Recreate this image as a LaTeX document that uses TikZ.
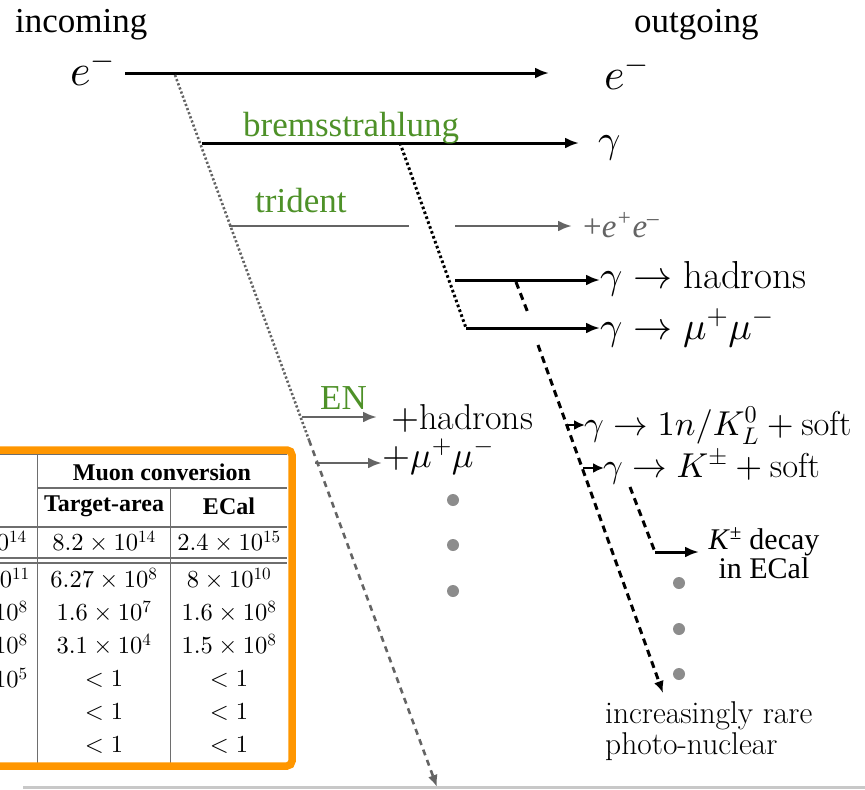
\documentclass[tikz,border=0pt]{standalone}
\usepackage{fontspec}
\DeclareFontShape{OML}{cmm}{m}{it}{<->cmmi10}{}
\DeclareFontShape{OMS}{cmsy}{m}{n}{<->cmsy10}{}
\DeclareFontShape{OT1}{cmr}{m}{n}{<->cmr10}{}
\DeclareFontShape{OMX}{cmex}{m}{n}{<->cmex10}{}
\newfontfamily\tms{Liberation Serif}
\usetikzlibrary{arrows.meta}
\definecolor{grn}{RGB}{78,145,40}
\definecolor{lgray}{RGB}{100,100,100}
\definecolor{dotgray}{RGB}{140,140,140}
\definecolor{orng}{RGB}{255,150,0}
\definecolor{rulegray}{RGB}{200,200,200}
\definecolor{tabline}{RGB}{110,110,110}
\tikzset{
  blk/.style={line width=3pt,black},
  gry/.style={line width=2.8pt,lgray},
  tip/.style={-{Latex[length=14pt,width=11pt]}},
  stip/.style={-{Latex[length=12pt,width=10pt]}},
  bdots/.style={line width=3pt,dash pattern=on 2.6pt off 2.6pt},
  gdots/.style={line width=2.6pt,lgray,dash pattern=on 2.2pt off 2.2pt},
  bdash/.style={line width=3pt,dash pattern=on 7pt off 5pt},
  gdash/.style={line width=2.6pt,lgray,dash pattern=on 6pt off 5pt},
  tlab/.style={inner sep=0pt,font=\tms\fontsize{35}{42}\selectfont},
  glab/.style={tlab,text=grn},
  mbig/.style={inner sep=0pt,font=\fontsize{44}{50}\selectfont},
  mmid/.style={inner sep=0pt,font=\fontsize{39}{46}\selectfont},
  msml/.style={inner sep=0pt,font=\fontsize{34.5}{40}\selectfont},
  mpls/.style={inner sep=0pt,font=\fontsize{36}{40}\selectfont},
  rare/.style={inner sep=0pt,font=\fontsize{31.5}{31.5}\selectfont,align=left},
  gdot/.style={circle,fill=dotgray,inner sep=0pt,minimum size=12pt},
  tabtxt/.style={inner sep=0pt,font=\fontsize{24.5}{28}\selectfont},
  tabhd/.style={inner sep=0pt,font=\tms\bfseries\fontsize{24}{28}\selectfont},
  tabrule/.style={line width=1.1pt,tabline},
}
\begin{document}
\begin{tikzpicture}[x=1pt,y=-1pt]
\useasboundingbox (0,0) rectangle (865,790);
% headings
\node[tlab,anchor=base west] (incoming) at (15,32) {incoming};
\node[tlab,anchor=base west] (outgoing) at (634,32) {outgoing};
% main electron line
\node[mbig,anchor=base west] (ein) at (70,85) {$e^-$};
\node[mbig,anchor=base west] (eout) at (604,89) {$e^-$};
\coordinate (eA) at (125,73);
\coordinate (eB) at (549,73);
\draw[blk,tip] (eA) -- (eB);
% gray long line
\coordinate (g0) at (175,75);
\coordinate (g1) at (309,440);
\coordinate (g2) at (437,787);
\draw[gdots] (g0) -- (g1);
\draw[gdash,stip] (g1) -- (g2);
% bremsstrahlung
\coordinate (b0) at (202,143);
\coordinate (b1) at (579,143);
\draw[blk,tip] (b0) -- (b1);
\node[glab,anchor=base west] (brem) at (243,136) {bremsstrahlung};
\node[mmid,anchor=base west] (gam) at (598,152) {$\gamma$};
% trident
\node[glab,anchor=base west] (tri) at (255,212) {trident};
\coordinate (t0) at (229,226);
\coordinate (t1) at (409,226);
\coordinate (t2) at (455,226);
\coordinate (t3) at (572,226);
\draw[gry] (t0) -- (t1);
\draw[gry,tip] (t2) -- (t3);
\node[tlab,anchor=base west,text=lgray,font=\tms\itshape\fontsize{33}{38}\selectfont] (ee) at (583,237) {\upshape+\itshape e\textsuperscript{+}e\textsuperscript{–}};
% photon dotted line
\coordinate (d0) at (400,143);
\coordinate (d1) at (466,328);
\draw[bdots] (d0) -- (d1);
\coordinate (h0) at (455,280);
\coordinate (h1) at (600,280);
\draw[blk,tip] (h0) -- (h1);
\draw[blk,tip] (d1) -- (600,328) coordinate (m1);
\node[mmid,anchor=base west] (had) at (600,288) {$\gamma\to\mathrm{hadrons}$};
\node[mmid,anchor=base west] (mumu) at (600,339) {$\gamma\to\mu^+\mu^-$};
% photo-nuclear dashed line
\coordinate (k0) at (516,282);
\coordinate (k1) at (528,313);
\coordinate (k2) at (538,345);
\coordinate (k3) at (663,693);
\draw[bdash] (k0) -- (k1);
\draw[bdash,stip] (k2) -- (k3);
\coordinate (s0) at (566,425);
\coordinate (s1) at (585,425);
\coordinate (s2) at (583,468);
\coordinate (s3) at (604,468);
\draw[line width=2.6pt,-{Latex[length=11pt,width=10pt]}] (s0) -- (s1);
\draw[line width=2.6pt,-{Latex[length=11pt,width=10pt]}] (s2) -- (s3);
\node[msml,anchor=base west] (kl) at (584,435) {$\gamma\to 1n/K_L^0+\mathrm{soft}$};
\node[msml,anchor=base west] (kpm) at (603,477) {$\gamma\to K^\pm+\mathrm{soft}$};
\coordinate (q0) at (630,487);
\coordinate (q1) at (655,552);
\coordinate (q2) at (699,552);
\draw[bdash] (q0) -- (q1);
\draw[blk,tip] (q1) -- (q2);
\node[inner sep=0pt,anchor=north,align=center,font=\tms\fontsize{30}{27}\selectfont] (kdec) at (764,527) {\textit{K}\textsuperscript{±} decay\\in ECal};
% EN branch
\node[glab,anchor=base west] (en) at (320,409) {EN};
\coordinate (n0) at (302,417);
\coordinate (n1) at (377,417);
\coordinate (n2) at (315,463);
\coordinate (n3) at (382,463);
\draw[gry,tip] (n0) -- (n1);
\draw[gry,tip] (n2) -- (n3);
\node[mpls,anchor=base west] (phad) at (391,429) {$+\mathrm{hadrons}$};
\node[mpls,anchor=base west] (pmu) at (382,467) {$+\mu^+\mu^-$};
% dots
\node[gdot] (da) at (453,500) {};
\node[gdot] (db) at (453,545) {};
\node[gdot] (dc) at (453,591) {};
\node[gdot] (dd) at (679,583) {};
\node[gdot] (de) at (679,629) {};
\node[gdot] (df) at (679,674) {};
% rare text
\node[rare,anchor=base west] (rare1) at (605,723) {increasingly rare};
\node[rare,anchor=base west] (rare2) at (605,754) {photo-nuclear};
% bottom rule
\coordinate (r0) at (23,787);
\coordinate (r1) at (865,787);
\draw[rulegray,line width=3pt] (r0) -- (r1);
% table
\begin{scope}
\clip (0,440) rectangle (300,775);
\draw[tabrule] (-10,454) -- (287,454);
\draw[tabrule] (37.7,488) -- (287,488);
\draw[tabrule] (-10,527) -- (287,527);
\draw[tabrule] (-10,558) -- (287,558);
\draw[tabrule] (-10,563) -- (287,563);
\draw[tabrule] (37.7,454) -- (37.7,766);
\draw[tabrule] (170.7,488) -- (170.7,766);
\node[tabhd] (muconv) at (162,472) {Muon conversion};
\node[tabhd] (targ) at (104,506) {Target-area};
\node[tabhd] (ecal) at (229,506) {ECal};
\node[tabtxt] (c21) at (104,542) {$8.2\times10^{14}$};
\node[tabtxt] (c31) at (229,542) {$2.4\times10^{15}$};
\node[tabtxt,anchor=east] (c11) at (27,542) {$1.0\times10^{14}$};
\node[tabtxt] (c22) at (104,579) {$6.27\times10^{8}$};
\node[tabtxt] (c32) at (229,579) {$8\times10^{10}$};
\node[tabtxt,anchor=east] (c12) at (30,579) {$1.0\times10^{11}$};
\node[tabtxt] (c23) at (104,612) {$1.6\times10^{7}$};
\node[tabtxt] (c33) at (229,612) {$1.6\times10^{8}$};
\node[tabtxt,anchor=east] (c13) at (28,612) {$1.0\times10^{8}$};
\node[tabtxt] (c24) at (104,645) {$3.1\times10^{4}$};
\node[tabtxt] (c34) at (229,645) {$1.5\times10^{8}$};
\node[tabtxt,anchor=east] (c14) at (28,645) {$1.0\times10^{8}$};
\node[tabtxt] (c25) at (104,679) {$<1$};
\node[tabtxt] (c35) at (229,679) {$<1$};
\node[tabtxt,anchor=east] (c15) at (28,679) {$1.0\times10^{5}$};
\node[tabtxt] (c26) at (104,712) {$<1$};
\node[tabtxt] (c36) at (229,712) {$<1$};
\node[tabtxt] (c27) at (104,745) {$<1$};
\node[tabtxt] (c37) at (229,745) {$<1$};
\draw[orng,line width=7.5pt,rounded corners=5pt] (-20,450) rectangle (292,766);
\end{scope}
\end{tikzpicture}
\end{document}
